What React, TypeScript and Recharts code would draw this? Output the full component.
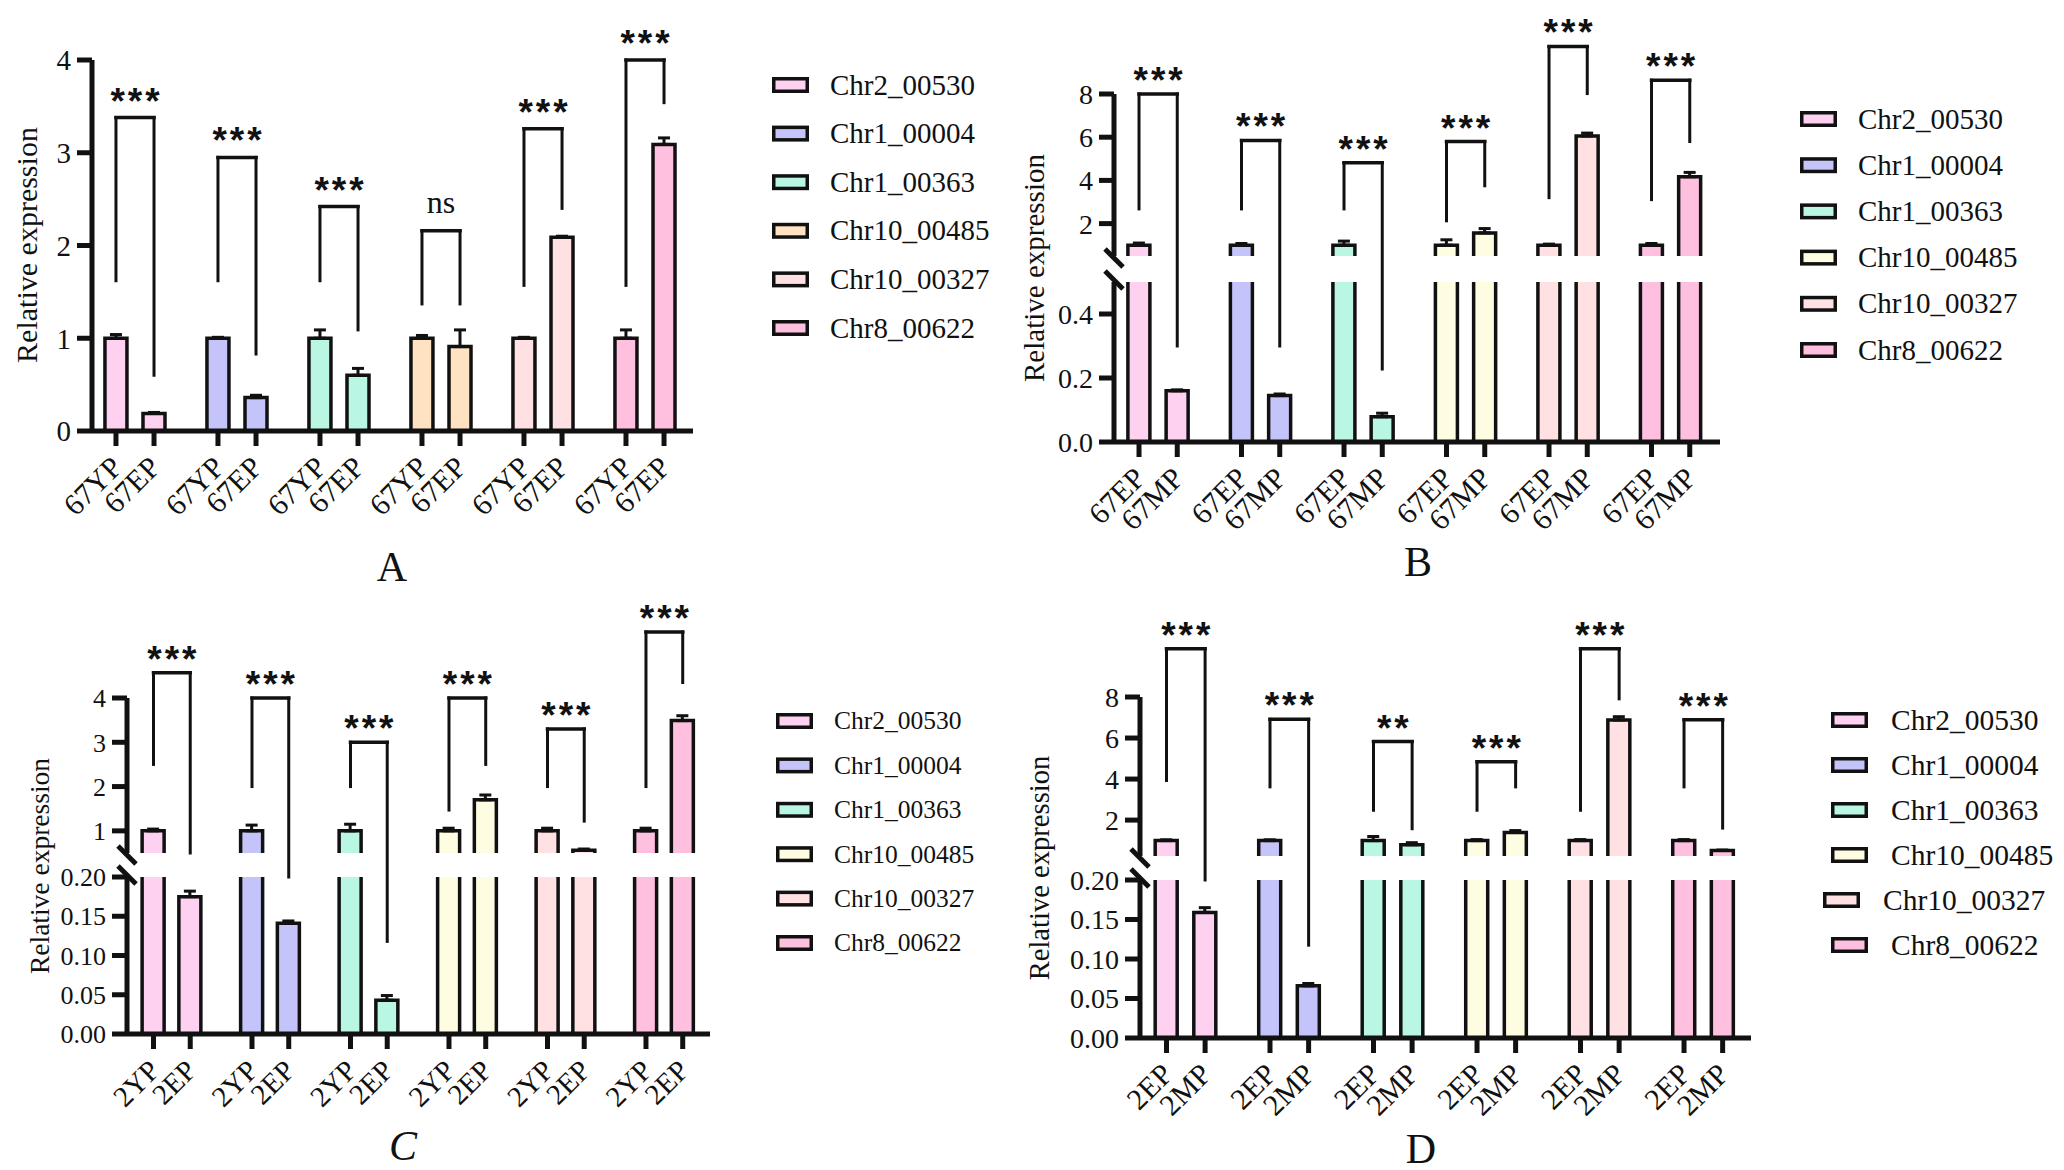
import React from "react";
import {
  Bar,
  ComposedChart,
  ErrorBar,
  ReferenceDot,
  ReferenceLine,
  XAxis,
  YAxis,
} from "recharts";

const SERIF = '"Liberation Serif", "Times New Roman", Times, serif';
const SANS = '"Liberation Sans", Arial, sans-serif';
const INK = "#111";

const GENES = ["Chr2_00530", "Chr1_00004", "Chr1_00363", "Chr10_00485", "Chr10_00327", "Chr8_00622"];
const COLORS_A = ["#FFD1F1", "#C4C4FA", "#B9F6E4", "#FFE2C2", "#FFE1E4", "#FFC0E0"];
const COLORS_BCD = ["#FFD1F1", "#C4C4FA", "#B9F6E4", "#FFFDE1", "#FFE1E4", "#FFC0E0"];

// Panel A: 67YP vs 67EP
const A_LABELS = ["67YP", "67EP"];
const A_CTRL = [1, 1, 1, 1, 1, 1];
const A_CTRL_SD = [0.04, 0.01, 0.09, 0.03, 0.01, 0.09];
const A_TREAT = [0.19, 0.36, 0.6, 0.91, 2.09, 3.09];
const A_TREAT_SD = [0.01, 0.025, 0.075, 0.18, 0.01, 0.07];
const A_SIG = ["***", "***", "***", "ns", "***", "***"];
const A_BRACKET = [3.38, 2.95, 2.42, 2.16, 3.26, 4.14];
const A_LEFT_LEG = [1.62, 1.62, 1.62, 1.37, 1.57, 1.57];
const A_RIGHT_LEG = [0.6, 0.83, 1.09, 1.37, 2.4, 3.54];
const A_TICKS = [0, 1, 2, 3, 4];

// Panel B: 67EP vs 67MP
const B_LABELS = ["67EP", "67MP"];
const B_CTRL = [1, 1, 1, 1, 1, 1];
const B_CTRL_SD = [0.1, 0.08, 0.19, 0.25, 0.05, 0.08];
const B_TREAT = [0.16, 0.145, 0.079, 1.57, 6.06, 4.17];
const B_TREAT_SD = [0.003, 0.005, 0.011, 0.2, 0.13, 0.2];
const B_SIG = ["***", "***", "***", "***", "***", "***"];
const B_BRACKET = [8.0, 5.85, 4.82, 5.8, 10.2, 8.64];
const B_LEFT_LEG = [2.68, 2.68, 2.68, 2.13, 3.2, 3.11];
const B_RIGHT_LEG = [0.3, 0.3, 0.228, 3.75, 8.02, 5.8];
const B_LOW_TICKS = [0, 0.2, 0.4];
const B_HIGH_TICKS = [2, 4, 6, 8];

// Panel C: 2YP vs 2EP
const C_LABELS = ["2YP", "2EP"];
const C_CTRL = [1, 1, 1, 1, 1, 1];
const C_CTRL_SD = [0.04, 0.13, 0.15, 0.06, 0.06, 0.06];
const C_TREAT = [0.175, 0.141, 0.043, 1.7, 0.56, 3.49];
const C_TREAT_SD = [0.007, 0.003, 0.006, 0.11, 0.03, 0.11];
const C_SIG = ["***", "***", "***", "***", "***", "***"];
const C_BRACKET = [4.57, 4.0, 3.0, 4.0, 3.3, 5.49];
const C_LEFT_LEG = [2.5, 2.0, 2.0, 1.47, 2.0, 2.0];
const C_RIGHT_LEG = [0.5, 0.2, 0.118, 2.5, 1.22, 4.35];
const C_LOW_TICKS = [0, 0.05, 0.1, 0.15, 0.2];
const C_HIGH_TICKS = [1, 2, 3, 4];

// Panel D: 2EP vs 2MP
const D_LABELS = ["2EP", "2MP"];
const D_CTRL = [1, 1, 1, 1, 1, 1];
const D_CTRL_SD = [0.04, 0.04, 0.2, 0.05, 0.05, 0.05];
const D_TREAT = [0.159, 0.066, 0.8, 1.4, 6.88, 0.52];
const D_TREAT_SD = [0.006, 0.003, 0.1, 0.09, 0.16, 0.02];
const D_SIG = ["***", "***", "**", "***", "***", "***"];
const D_BRACKET = [10.35, 6.91, 5.83, 4.84, 10.35, 6.89];
const D_LEFT_LEG = [3.93, 3.62, 2.48, 2.48, 2.48, 3.62];
const D_RIGHT_LEG = [0.2, 0.1175, 1.58, 3.62, 7.91, 1.61];
const D_LOW_TICKS = [0, 0.05, 0.1, 0.15, 0.2];
const D_HIGH_TICKS = [2, 4, 6, 8];

// second bar of a pair sits this far (in group units) right of the first
const PAIR_OFFSET = 0.373;

interface AxisSpec {
  lowMax: number;
  highMin: number;
  highMax: number;
  loPx: number;
  gapPx: number;
  hiPx: number;
  lowTicks: number[];
  highTicks: number[];
  lowDigits: number;
  highDigits: number;
}

interface Layout {
  left: number;
  top: number;
  width: number;
  height: number;
  margin: { top: number; right: number; bottom: number; left: number };
  xDomain: [number, number];
  pitch: number;
  tickFont: number;
  labelFont: number;
  sigLift: number;
}

interface PanelProps {
  layout: Layout;
  axis: AxisSpec;
  colors: string[];
  labels: string[];
  ctrl: number[];
  ctrlSd: number[];
  treat: number[];
  treatSd: number[];
  sig: string[];
  bracket: number[];
  leftLeg: number[];
  rightLeg: number[];
}

interface Row {
  pos: number;
  label: string;
  color: string;
  disp: number;
  err: [number, number];
}

function Panel({ layout, axis, colors, labels, ctrl, ctrlSd, treat, treatSd, sig, bracket, leftLeg, rightLeg }: PanelProps) {
  const broken = axis.gapPx > 0;
  const span = axis.highMax - axis.highMin;
  // piecewise map value -> plot units (lower segment, gap, upper segment)
  const toDisp = (v: number) =>
    v <= axis.lowMax
      ? (v / axis.lowMax) * axis.loPx
      : axis.loPx + axis.gapPx + ((v - axis.highMin) / span) * axis.hiPx;
  const sdDisp = (v: number, sd: number) =>
    v <= axis.lowMax ? (sd / axis.lowMax) * axis.loPx : (sd / span) * axis.hiPx;
  const yTop = axis.loPx + axis.gapPx + axis.hiPx;

  const rows: Row[] = [];
  GENES.forEach((_, g) => {
    [ctrl[g], treat[g]].forEach((v, i) => {
      const sd = i === 0 ? ctrlSd[g] : treatSd[g];
      rows.push({
        pos: g + i * PAIR_OFFSET,
        label: labels[i],
        color: colors[g],
        disp: toDisp(v),
        err: [0, sdDisp(v, sd)],
      });
    });
  });

  const tickList = [
    ...axis.lowTicks.map((t) => ({ v: toDisp(t), s: t.toFixed(axis.lowDigits) })),
    ...axis.highTicks.map((t) => ({ v: toDisp(t), s: t.toFixed(axis.highDigits) })),
  ];
  const tickText = new Map(tickList.map((t) => [t.v, t.s]));

  const renderBar = (props: any) => {
    const { x, y, width, height, payload } = props;
    if (!height || height <= 0) return <g />;
    const base = y + height;
    const fill = payload.color;
    const sw = 3.5;
    if (!broken || payload.disp <= axis.loPx) {
      return (
        <g>
          <rect x={x} y={y} width={width} height={height} fill={fill} />
          <path d={`M${x},${base}V${y}H${x + width}V${base}`} fill="none" stroke={INK} strokeWidth={sw} />
        </g>
      );
    }
    const k = height / payload.disp;
    const gapLow = base - axis.loPx * k;
    const gapHigh = base - (axis.loPx + axis.gapPx) * k;
    return (
      <g>
        <rect x={x} y={gapLow} width={width} height={base - gapLow} fill={fill} />
        <rect x={x} y={y} width={width} height={Math.max(0, gapHigh - y)} fill={fill} />
        <path d={`M${x},${base}V${gapLow}M${x + width},${base}V${gapLow}`} fill="none" stroke={INK} strokeWidth={sw} />
        <path d={`M${x},${gapHigh}V${y}H${x + width}V${gapHigh}`} fill="none" stroke={INK} strokeWidth={sw} />
      </g>
    );
  };

  const renderXTick = (props: any) => {
    const { x, y, payload } = props;
    const row = rows.find((r) => Math.abs(r.pos - payload.value) < 1e-6);
    const ax = x + 8;
    const ay = y + 21;
    return (
      <text
        x={ax}
        y={ay}
        transform={`rotate(-45 ${ax} ${ay})`}
        textAnchor="end"
        fontFamily={SERIF}
        fontSize={layout.labelFont}
        fill={INK}
      >
        {row ? row.label : ""}
      </text>
    );
  };

  const x0 = layout.xDomain[0];
  const dx = 9 / layout.pitch;
  const lineStyle = { stroke: INK, strokeWidth: 3, strokeLinecap: "square" as const };

  return (
    <div style={{ position: "absolute", left: layout.left, top: layout.top }}>
      <ComposedChart width={layout.width} height={layout.height} data={rows} margin={layout.margin}>
        <XAxis
          xAxisId={0}
          type="number"
          dataKey="pos"
          domain={layout.xDomain}
          allowDataOverflow
          ticks={rows.map((r) => r.pos)}
          interval={0}
          tick={renderXTick}
          tickSize={15}
          tickLine={{ stroke: INK, strokeWidth: 5 }}
          axisLine={{ stroke: INK, strokeWidth: 5 }}
          height={110}
        />
        <YAxis
          yAxisId={0}
          type="number"
          domain={[0, yTop]}
          allowDataOverflow
          ticks={tickList.map((t) => t.v)}
          interval={0}
          tickFormatter={(v: number) => tickText.get(v) ?? ""}
          width={80}
          tickSize={15}
          tickMargin={6}
          tickLine={{ stroke: INK, strokeWidth: 5 }}
          axisLine={broken ? false : { stroke: INK, strokeWidth: 5 }}
          tick={{ fontFamily: SERIF, fontSize: layout.tickFont, fill: INK }}
        />
        <Bar dataKey="disp" barSize={22} shape={renderBar} isAnimationActive={false}>
          <ErrorBar dataKey="err" width={6} strokeWidth={3} stroke={INK} direction="y" isAnimationActive={false} />
        </Bar>

        {/* broken y axis: two pieces plus the slash marks */}
        {broken && (
          <ReferenceLine
            segment={[{ x: x0, y: 0 }, { x: x0, y: axis.loPx }]}
            stroke={INK}
            strokeWidth={5}
            ifOverflow="visible"
          />
        )}
        {broken && (
          <ReferenceLine
            segment={[{ x: x0, y: axis.loPx + axis.gapPx }, { x: x0, y: yTop }]}
            stroke={INK}
            strokeWidth={5}
            ifOverflow="visible"
          />
        )}
        {broken &&
          [axis.loPx + 2, axis.loPx + axis.gapPx - 2].map((c) => (
            <ReferenceLine
              key={`brk-${c}`}
              segment={[{ x: x0 - dx, y: c + 9 }, { x: x0 + dx, y: c - 9 }]}
              stroke={INK}
              strokeWidth={5}
              ifOverflow="visible"
            />
          ))}

        {/* significance brackets */}
        {GENES.map((gene, g) => {
          const xl = g;
          const xr = g + PAIR_OFFSET;
          const top = toDisp(bracket[g]);
          return [
            <ReferenceLine
              key={`${gene}-l`}
              segment={[{ x: xl, y: toDisp(leftLeg[g]) }, { x: xl, y: top }]}
              {...lineStyle}
              ifOverflow="visible"
            />,
            <ReferenceLine
              key={`${gene}-t`}
              segment={[{ x: xl, y: top }, { x: xr, y: top }]}
              {...lineStyle}
              strokeWidth={3.5}
              ifOverflow="visible"
            />,
            <ReferenceLine
              key={`${gene}-r`}
              segment={[{ x: xr, y: top }, { x: xr, y: toDisp(rightLeg[g]) }]}
              {...lineStyle}
              ifOverflow="visible"
            />,
          ];
        })}
        {GENES.map((gene, g) => {
          const isNs = sig[g] === "ns";
          return (
            <ReferenceDot
              key={`${gene}-sig`}
              x={g + PAIR_OFFSET / 2}
              y={toDisp(bracket[g])}
              r={0}
              ifOverflow="visible"
              shape={(p: any) => (
                <text
                  x={p.cx + (isNs ? 0 : 1.5)}
                  y={p.cy - (isNs ? 18 : layout.sigLift)}
                  textAnchor="middle"
                  fontFamily={isNs ? SERIF : SANS}
                  fontWeight={isNs ? 400 : 700}
                  fontSize={isNs ? 32 : 37}
                  letterSpacing={isNs ? 0 : 3}
                  fill={INK}
                >
                  {sig[g]}
                </text>
              )}
            />
          );
        })}
      </ComposedChart>
    </div>
  );
}

interface LegendProps {
  x: number;
  y: number;
  step: number;
  textX: number;
  fontSize: number;
  colors: string[];
  nudge?: number[];
}

function LegendBlock({ x, y, step, textX, fontSize, colors, nudge }: LegendProps) {
  const sw = 3.5;
  return (
    <g>
      {GENES.map((gene, i) => {
        const cy = y + i * step;
        const n = nudge ? nudge[i] : 0;
        return (
          <g key={gene}>
            <rect x={x + n + sw / 2} y={cy - 8 + sw / 2} width={37 - sw} height={16 - sw} fill={colors[i]} stroke={INK} strokeWidth={sw} />
            <text x={textX + n} y={cy + fontSize * 0.33} fontFamily={SERIF} fontSize={fontSize} fill={INK}>
              {gene}
            </text>
          </g>
        );
      })}
    </g>
  );
}

function YTitle({ x, y, size }: { x: number; y: number; size: number }) {
  return (
    <text
      x={x}
      y={y}
      transform={`rotate(-90 ${x} ${y})`}
      textAnchor="middle"
      dominantBaseline="central"
      fontFamily={SERIF}
      fontSize={size}
      fill={INK}
    >
      Relative expression
    </text>
  );
}

const AXIS_A: AxisSpec = {
  lowMax: 4, highMin: 4, highMax: 5, loPx: 4, gapPx: 0, hiPx: 0,
  lowTicks: A_TICKS, highTicks: [], lowDigits: 0, highDigits: 0,
};
const AXIS_B: AxisSpec = {
  lowMax: 0.5, highMin: 0.5, highMax: 8, loPx: 160, gapPx: 26, hiPx: 162,
  lowTicks: B_LOW_TICKS, highTicks: B_HIGH_TICKS, lowDigits: 1, highDigits: 0,
};
const AXIS_C: AxisSpec = {
  lowMax: 0.2, highMin: 0.5, highMax: 4, loPx: 157, gapPx: 24, hiPx: 155,
  lowTicks: C_LOW_TICKS, highTicks: C_HIGH_TICKS, lowDigits: 2, highDigits: 0,
};
const AXIS_D: AxisSpec = {
  lowMax: 0.2, highMin: 0.25, highMax: 8, loPx: 158, gapPx: 24, hiPx: 159,
  lowTicks: D_LOW_TICKS, highTicks: D_HIGH_TICKS, lowDigits: 2, highDigits: 0,
};

const LAYOUT_A: Layout = {
  left: 0, top: 0, width: 760, height: 560,
  margin: { top: 60, right: 67, bottom: 19, left: 12 },
  xDomain: [-0.235, 5.657], pitch: 102, tickFont: 29, labelFont: 30, sigLift: 4,
};
const LAYOUT_B: Layout = {
  left: 1000, top: 0, width: 760, height: 560,
  margin: { top: 94, right: 40, bottom: 8, left: 34 },
  xDomain: [-0.244, 5.668], pitch: 102.5, tickFont: 28, labelFont: 30, sigLift: 1,
};
const LAYOUT_C: Layout = {
  left: 0, top: 590, width: 760, height: 580,
  margin: { top: 108, right: 50, bottom: 26, left: 47 },
  xDomain: [-0.269, 5.65], pitch: 98.5, tickFont: 26, labelFont: 29, sigLift: 1,
};
const LAYOUT_D: Layout = {
  left: 1000, top: 590, width: 800, height: 580,
  margin: { top: 107, right: 49, bottom: 22, left: 60 },
  xDomain: [-0.256, 5.647], pitch: 103.5, tickFont: 28, labelFont: 30, sigLift: 1,
};

export default function App() {
  return (
    <div style={{ position: "absolute", left: 0, top: 0, width: 2064, height: 1170, background: "#fff", overflow: "hidden" }}>
      <Panel layout={LAYOUT_A} axis={AXIS_A} colors={COLORS_A} labels={A_LABELS}
        ctrl={A_CTRL} ctrlSd={A_CTRL_SD} treat={A_TREAT} treatSd={A_TREAT_SD}
        sig={A_SIG} bracket={A_BRACKET} leftLeg={A_LEFT_LEG} rightLeg={A_RIGHT_LEG} />
      <Panel layout={LAYOUT_B} axis={AXIS_B} colors={COLORS_BCD} labels={B_LABELS}
        ctrl={B_CTRL} ctrlSd={B_CTRL_SD} treat={B_TREAT} treatSd={B_TREAT_SD}
        sig={B_SIG} bracket={B_BRACKET} leftLeg={B_LEFT_LEG} rightLeg={B_RIGHT_LEG} />
      <Panel layout={LAYOUT_C} axis={AXIS_C} colors={COLORS_BCD} labels={C_LABELS}
        ctrl={C_CTRL} ctrlSd={C_CTRL_SD} treat={C_TREAT} treatSd={C_TREAT_SD}
        sig={C_SIG} bracket={C_BRACKET} leftLeg={C_LEFT_LEG} rightLeg={C_RIGHT_LEG} />
      <Panel layout={LAYOUT_D} axis={AXIS_D} colors={COLORS_BCD} labels={D_LABELS}
        ctrl={D_CTRL} ctrlSd={D_CTRL_SD} treat={D_TREAT} treatSd={D_TREAT_SD}
        sig={D_SIG} bracket={D_BRACKET} leftLeg={D_LEFT_LEG} rightLeg={D_RIGHT_LEG} />

      <svg width={2064} height={1170} style={{ position: "absolute", left: 0, top: 0, pointerEvents: "none" }}>
        <LegendBlock x={772} y={85} step={48.6} textX={830} fontSize={29} colors={COLORS_A} />
        <LegendBlock x={1800} y={119} step={46.2} textX={1858} fontSize={29} colors={COLORS_BCD} />
        <LegendBlock x={776} y={721} step={44.4} textX={834} fontSize={25.5} colors={COLORS_BCD} />
        <LegendBlock x={1831} y={720} step={45} textX={1891} fontSize={29.5} colors={COLORS_BCD} nudge={[0, 0, 0, 0, -8, 0]} />

        <YTitle x={26} y={245} size={30} />
        <YTitle x={1034} y={268} size={29} />
        <YTitle x={39} y={866} size={27.5} />
        <YTitle x={1039} y={868} size={28.6} />

        <text x={392} y={581} textAnchor="middle" fontFamily={SERIF} fontSize={42} fill={INK}>A</text>
        <text x={1418} y={576} textAnchor="middle" fontFamily={SERIF} fontSize={42} fill={INK}>B</text>
        <text x={403} y={1160} textAnchor="middle" fontFamily={SERIF} fontStyle="italic" fontSize={42} fill={INK}>C</text>
        <text x={1421} y={1163} textAnchor="middle" fontFamily={SERIF} fontSize={42} fill={INK}>D</text>
      </svg>
    </div>
  );
}
